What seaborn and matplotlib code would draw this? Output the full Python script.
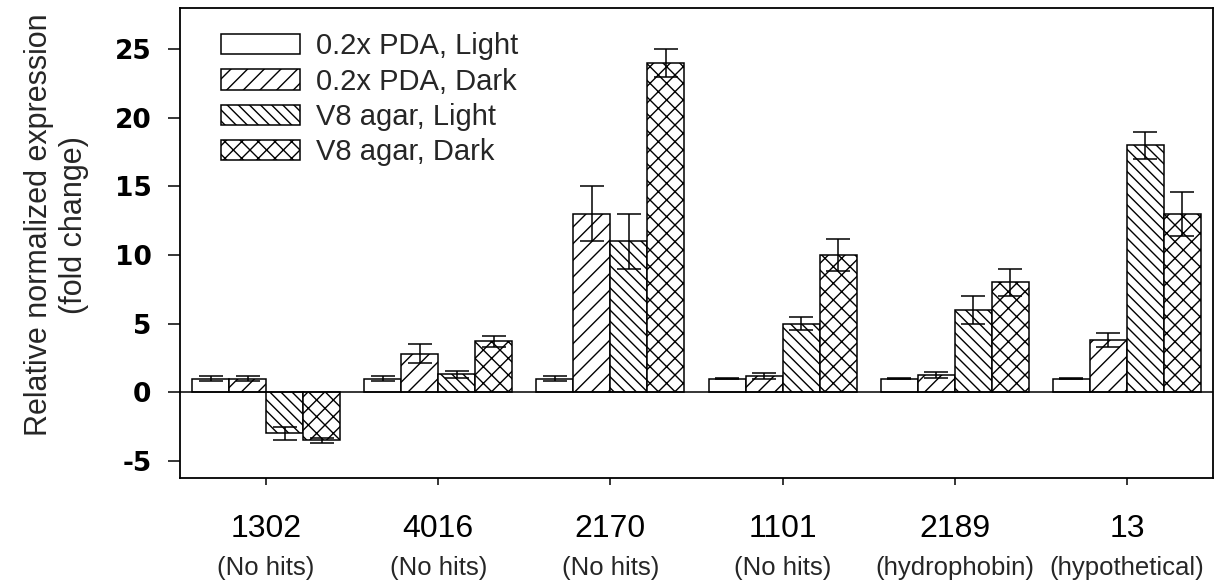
import numpy as np
import pandas as pd
import seaborn as sns
from matplotlib import pyplot as plt

genes = ['1302', '4016', '2170', '1101', '2189', '13']
descriptions = ['(No hits)', '(No hits)', '(No hits)', '(No hits)', '(hydrophobin)', '(hypothetical)']
conditions = ['0.2x PDA, Light', '0.2x PDA, Dark', 'V8 agar, Light', 'V8 agar, Dark']

pda_light = [1.0, 1.0, 1.0, 1.0, 1.0, 1.0]
pda_light_err = [0.2, 0.15, 0.15, 0.05, 0.05, 0.05]
pda_dark = [1.0, 2.8, 13.0, 1.2, 1.25, 3.8]
pda_dark_err = [0.15, 0.7, 2.0, 0.2, 0.2, 0.5]
v8_light = [-3.0, 1.3, 11.0, 5.0, 6.0, 18.0]
v8_light_err = [0.5, 0.25, 2.0, 0.5, 1.0, 1.0]
v8_dark = [-3.5, 3.7, 24.0, 10.0, 8.0, 13.0]
v8_dark_err = [0.2, 0.4, 1.0, 1.2, 1.0, 1.6]

hatches = ['', '//', '\\\\\\', 'xx']

values = [pda_light, pda_dark, v8_light, v8_dark]
errors = [pda_light_err, pda_dark_err, v8_light_err, v8_dark_err]

rows = []
for cond, vals in zip(conditions, values):
    for gene, v in zip(genes, vals):
        rows.append({'Gene': gene, 'Condition': cond, 'Expression': v})
df = pd.DataFrame(rows)

sns.set_style('ticks')
plt.rcParams['font.family'] = ['Liberation Sans', 'DejaVu Sans']
plt.rcParams['hatch.linewidth'] = 1.0
plt.rcParams['hatch.color'] = 'black'

fig, ax = plt.subplots(figsize=(12.3, 5.84), dpi=100)
fig.subplots_adjust(left=0.1463, right=0.9862, bottom=0.1815, top=0.9863)

sns.barplot(data=df, x='Gene', y='Expression', hue='Condition', order=genes,
            hue_order=conditions, palette=['white'] * 4, saturation=1,
            edgecolor='black', linewidth=1.1, width=0.86, errorbar=None,
            legend=False, ax=ax)

# hatches + error bars per condition
for cont, hatch, vals, errs in zip(ax.containers, hatches, values, errors):
    xs = []
    for bar in cont.patches:
        bar.set_hatch(hatch)
        bar.set_edgecolor('black')
        xs.append(bar.get_x() + bar.get_width() / 2)
    ax.errorbar(xs, vals, yerr=errs, fmt='none', ecolor='black',
                elinewidth=1.1, capsize=8.5, capthick=1.1, zorder=5)

ax.axhline(0, color='black', linewidth=1.1, zorder=4)

ax.set_xlim(-0.5, 5.5)
ax.set_ylim(-6.25, 28.0)
ax.set_yticks([-5, 0, 5, 10, 15, 20, 25])
ax.set_yticklabels(['-5', '0', '5', '10', '15', '20', '25'],
                   family='DejaVu Sans', fontsize=19, fontweight='bold')
ax.tick_params(axis='y', length=8.5, width=1.1, pad=12, colors='black')
ax.tick_params(axis='x', length=5, width=1.1, pad=21, labelsize=23, colors='black')
ax.set_xlabel('')

for i, d in enumerate(descriptions):
    ax.annotate(d, xy=(i, 0), xycoords=('data', 'axes fraction'),
                xytext=(0, -56), textcoords='offset points',
                ha='center', va='top', fontsize=18.5)

for side in ['left', 'right', 'top', 'bottom']:
    ax.spines[side].set_visible(True)
    ax.spines[side].set_color('black')
    ax.spines[side].set_linewidth(1.3)

ax.set_ylabel('Relative normalized expression\n(fold change)', fontsize=22)
ax.yaxis.set_label_coords(-0.088, 0.538)

ax.legend(ax.containers, conditions, loc='upper left', bbox_to_anchor=(0.04, 0.948),
          frameon=False, fontsize=21, handlelength=2.7, handleheight=0.7,
          handletextpad=0.55, labelspacing=0.25, borderpad=0, borderaxespad=0)

plt.savefig('out.png', dpi=100)
